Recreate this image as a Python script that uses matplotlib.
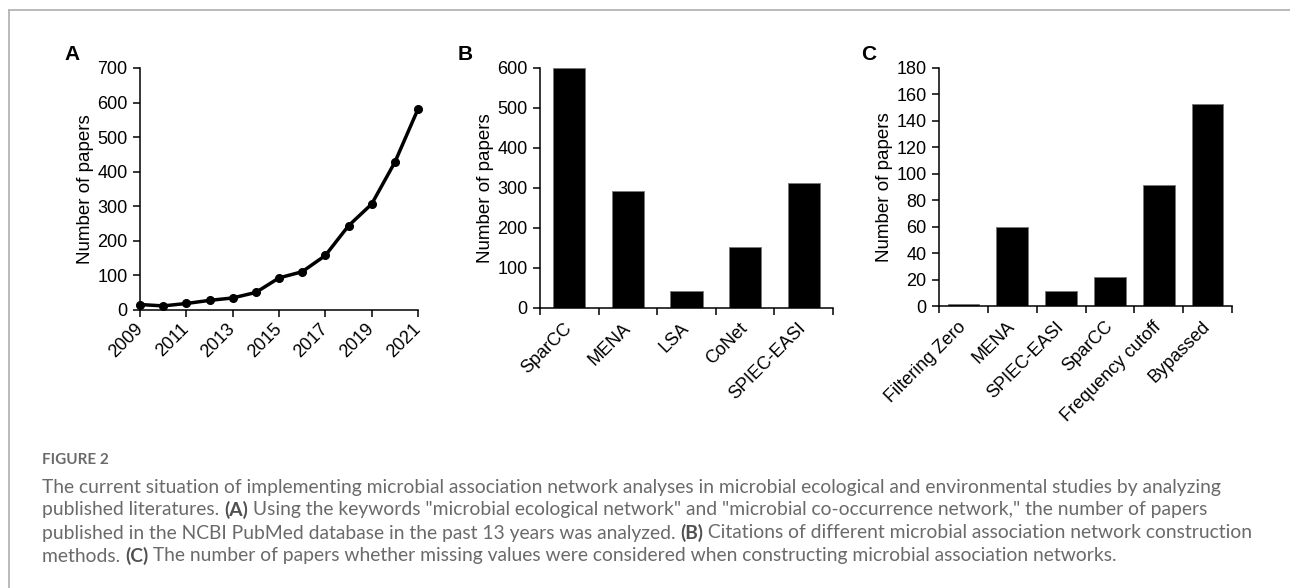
import matplotlib
matplotlib.use("Agg")
import matplotlib.pyplot as plt
from matplotlib.lines import Line2D

# ---------------- data ----------------
years = [2009, 2010, 2011, 2012, 2013, 2014, 2015, 2016, 2017, 2018, 2019, 2020, 2021]
papers_per_year = [15, 11, 18, 27, 34, 50, 92, 110, 157, 243, 306, 427, 581]
year_ticks = [2009, 2011, 2013, 2015, 2017, 2019, 2021]

methods_b = ["SparCC", "MENA", "LSA", "CoNet", "SPIEC-EASI"]
citations_b = [600, 293, 43, 152, 311]

methods_c = ["Filtering Zero", "MENA", "SPIEC-EASI", "SparCC", "Frequency cutoff", "Bypassed"]
papers_c = [1.5, 60, 11.5, 22.5, 91.5, 152.5]

caption_title = "FIGURE 2"
caption_lines = [
    [("The current situation of implementing microbial association network analyses in microbial ecological and environmental studies by analyzing", False)],
    [("published literatures. ", False), ("(A)", True),
     (" Using the keywords \"microbial ecological network\" and \"microbial co-occurrence network,\" the number of papers", False)],
    [("published in the NCBI PubMed database in the past 13 years was analyzed. ", False), ("(B)", True),
     (" Citations of different microbial association network construction", False)],
    [("methods. ", False), ("(C)", True),
     (" The number of papers whether missing values were considered when constructing microbial association networks.", False)],
]

# ---------------- style ----------------
W, H = 1290, 588
plt.rcParams["font.family"] = ["Liberation Sans", "DejaVu Sans"]
fig = plt.figure(figsize=(W / 100, H / 100), dpi=100)

TICK_FS = 13
LAB_FS = 13.5
SPINE_W = 1.1


def px_axes(left, right, top, bottom):
    return fig.add_axes([left / W, (H - bottom) / H, (right - left) / W, (bottom - top) / H])


def style(ax):
    for s in ["top", "right"]:
        ax.spines[s].set_visible(False)
    for s in ["left", "bottom"]:
        ax.spines[s].set_linewidth(SPINE_W)
        ax.spines[s].set_color("black")
    ax.tick_params(axis="both", which="both", direction="out", width=SPINE_W,
                   length=5, labelsize=TICK_FS, color="black")
    ax.tick_params(axis="y", pad=4)
    ax.set_ylabel("Number of papers", fontsize=LAB_FS, labelpad=2)


# Panel A
axA = px_axes(140, 418, 68, 309.7)
axA.plot(years, papers_per_year, color="black", lw=2.5, marker="o", ms=5.5,
         solid_joinstyle="round", clip_on=False)
axA.set_xlim(2009, 2021)
axA.set_ylim(0, 700)
axA.set_yticks(range(0, 701, 100))
axA.set_xticks(year_ticks)
axA.set_xticklabels([str(y) for y in year_ticks], rotation=45, ha="right",
                    va="center", rotation_mode="anchor")
style(axA)
axA.tick_params(axis="x", pad=7)

# Panel B
axB = px_axes(540, 833, 68, 307.7)
xb = list(range(len(methods_b)))
axB.bar(xb, citations_b, width=0.55, color="black", edgecolor="#777777", linewidth=0.6)
axB.set_xlim(-0.5, len(methods_b) - 0.5)
axB.set_ylim(0, 600)
axB.set_yticks(range(0, 601, 100))
axB.set_xticks(xb)
axB.set_xticklabels(methods_b, rotation=45, ha="right", va="center", rotation_mode="anchor")
axB.set_xticks([i - 0.5 for i in range(len(methods_b) + 1)], minor=True)
style(axB)
axB.tick_params(axis="x", which="major", length=0, pad=13)

# Panel C
axC = px_axes(939, 1232, 68, 306.3)
xc = list(range(len(methods_c)))
axC.bar(xc, papers_c, width=0.65, color="black", edgecolor="#777777", linewidth=0.6)
axC.set_xlim(-0.5, len(methods_c) - 0.5)
axC.set_ylim(0, 180)
axC.set_yticks(range(0, 181, 20))
axC.set_xticks(xc)
axC.set_xticklabels(methods_c, rotation=45, ha="right", va="center", rotation_mode="anchor")
axC.set_xticks([i - 0.5 for i in range(len(methods_c) + 1)], minor=True)
style(axC)
axC.tick_params(axis="x", which="major", length=0, pad=13)

# Panel letters
for lbl, x in [("A", 72), ("B", 465), ("C", 869)]:
    fig.text(x / W, 1 - 54 / H, lbl, fontsize=15, fontweight="bold",
             ha="center", va="center")

# Border lines
fig.add_artist(Line2D([9 / W, 1], [1 - 10 / H, 1 - 10 / H], color="#b4b4b4", lw=1.3,
                      transform=fig.transFigure))
fig.add_artist(Line2D([9 / W, 9 / W], [0, 1 - 10 / H], color="#b4b4b4", lw=1.3,
                      transform=fig.transFigure))

# Caption
CAP_FONT = ["Lato", "DejaVu Sans"]
CAP_FS = 13.9
fig.text(42 / W, 1 - 460 / H, caption_title, fontsize=11, fontweight="bold",
         color="#6a6a6a", family=CAP_FONT, va="center", ha="left")

renderer = fig.canvas.get_renderer()
line_y = [487, 510, 533, 556]
for segs, y in zip(caption_lines, line_y):
    x = 42
    for txt, bold in segs:
        t = fig.text(x / W, 1 - y / H, txt, fontsize=CAP_FS, family=CAP_FONT,
                     fontweight="bold" if bold else "normal",
                     color="#505050" if bold else "#6a6a6a", va="center", ha="left")
        bb = t.get_window_extent(renderer=renderer)
        x += bb.width

fig.savefig("out.png", dpi=100)
